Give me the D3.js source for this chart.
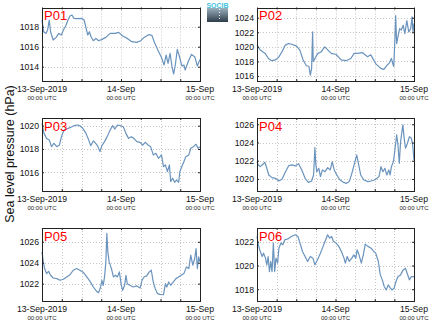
<!DOCTYPE html>
<html><head><meta charset="utf-8">
<script src="https://cdn.jsdelivr.net/npm/d3@7"></script>
<style>html,body{margin:0;padding:0;background:#fff;}svg{display:block;}</style>
</head><body>
<script>
const panelNames = ["P01","P02","P03","P04","P05","P06"];
const startDate = Date.UTC(2019, 8, 13);
const xTickLabels = ["13-Sep-2019", "14-Sep", "15-Sep"];
const xTickSub = "00:00 UTC";
const yLabel = "Sea level pressure (hPa)";

const p01Hours = [0,0.5,1.2,1.7,2.2,2.6,3.4,4.3,5.1,5.9,6.5,7.2,7.8,8.5,9.1,9.7,10.7,12.1,12.8,13.4,13.9,14.4,14.9,15.6,16.4,17.2,18.2,19.4,20.7,22.2,23.3,24.5,25.9,27.3,28.8,30,31,32.4,33.4,34.2,35.2,36.3,37.1,37.7,38.3,38.9,39.5,40,40.5,41.1,41.7,42.5,43.1,43.5,44.4,45.4,46.4,47.2,48];
const p01Values = [1018.67,1017.5,1017.33,1017.67,1018.67,1017.5,1016.67,1016.93,1017.33,1017.17,1017.67,1018.07,1018.6,1019.07,1019.17,1018.83,1018.8,1018.83,1018.67,1017.83,1017.17,1017.5,1017,1016.6,1016.83,1016.6,1016.73,1016.93,1017.33,1017.33,1017.43,1017.07,1016.83,1016.5,1016.43,1016.6,1016.93,1017.2,1017.13,1016.4,1015.67,1014.93,1014.17,1015.17,1014.33,1015.33,1014,1013.27,1014.17,1015.73,1015.07,1014.07,1014.17,1013.67,1014.5,1015.23,1015,1014.07,1014.73];

const p02Hours = [0,1,2.5,3.5,4.5,5.6,6.6,7.6,8.6,9.6,10.6,12.1,13.1,14.1,15.1,15.9,16.3,16.7,17,17.2,17.7,18.6,19.6,20.7,21.7,22.7,24.2,25.7,27.2,28.7,29.7,30.7,32.3,33.8,34.8,36.3,37.8,38.8,39.8,40.5,41.1,41.5,41.8,42.2,42.4,42.7,43.1,43.6,44.1,44.7,45.2,45.8,46.4,47,47.4,47.7,48];
const p02Values = [1020.23,1019.55,1019.1,1018.4,1018.1,1018.2,1018.55,1019.3,1020.2,1020.45,1020.36,1020.1,1019.55,1018.2,1017.4,1017.3,1016.1,1017.05,1022.05,1018,1018.4,1019.1,1019.3,1020,1019.55,1019.1,1018.95,1018.2,1018.1,1018.4,1019.1,1019.1,1019.2,1018.65,1018.9,1017.7,1017.05,1016.9,1017.5,1017.8,1018.4,1017.7,1017.3,1021.4,1024.3,1020.45,1021.4,1022.5,1022.3,1022.95,1021.8,1023.6,1022.05,1022.5,1024.1,1022.05,1023.2];

const p03Hours = [0,0.6,1.4,2.2,2.9,3.6,4.5,5.3,5.9,6.7,7.5,8.5,9.7,10.7,11.5,12.4,13.2,14,14.8,15.6,16.3,17,17.6,18.2,19,19.8,20.7,21.5,22.1,22.9,23.9,24.7,25.5,26.3,27.1,27.9,28.8,29.8,30.6,31.4,32.2,33,33.8,34.6,35.4,36.3,36.9,37.5,38.1,38.7,39.1,39.7,40.3,40.9,41.5,41.9,42.5,43.1,43.7,44.6,45.2,46,46.8,47.4,48];
const p03Values = [1020.2,1019.34,1018.9,1018.77,1018.2,1018.49,1018.2,1018.34,1019.06,1019.63,1019.71,1019.83,1020,1020.06,1020,1019.77,1019.43,1018.91,1018.29,1018.69,1018.49,1018.2,1017.77,1018.29,1018.63,1019.06,1019.63,1020,1019.71,1020.06,1020,1019.91,1019.34,1018.91,1019.06,1018.91,1018.63,1018.57,1018.34,1018.57,1018.34,1018.2,1017.49,1017.63,1017.2,1017.49,1016.49,1016.63,1016.06,1016.63,1015.2,1015.49,1015.14,1015.34,1015.14,1016.06,1016.49,1016.91,1017.34,1017.49,1018.06,1018.2,1018.4,1018.06,1018.2];

const p04Hours = [0,0.4,1,1.8,2.4,3,3.6,4.6,5.6,6.7,7.7,8.7,9.7,10.7,11.7,12.7,13.7,14.7,15.7,16.7,17.3,17.7,18,18.3,18.9,19.4,20,20.8,21.6,22.4,23,23.6,24.4,25.4,26.4,27.4,28.2,29,29.8,30.5,31,31.7,32.7,33.9,34.9,35.9,36.7,37.3,37.9,38.5,39.1,39.7,40.3,40.7,41.1,41.7,42.1,42.7,43.1,43.5,43.9,44.6,45,45.4,46,46.6,47.2,47.6,48];
const p04Values = [1021.9,1021.54,1021.35,1021.61,1021.83,1021.17,1020.44,1020.15,1020.07,1019.78,1020,1020.8,1021.46,1021.54,1021.43,1021.68,1020.99,1020.07,1019.63,1019.78,1020.44,1023.44,1021.54,1020.8,1021.17,1020.26,1020.99,1020.8,1021.24,1020.99,1021.9,1020.99,1020.44,1019.89,1019.63,1019.52,1019.71,1020.62,1021.72,1022.63,1021.72,1020.44,1019.89,1019.71,1019.78,1019.89,1020.07,1020.26,1021.35,1020.8,1021.17,1020.44,1020.99,1020.44,1021.35,1021.9,1023,1024.83,1023.73,1021.72,1024.1,1025.93,1024.46,1023.37,1023.92,1024.65,1024.46,1023.73,1022.09];

const p05Hours = [0,0.4,0.8,1.4,2,2.6,3.4,4.5,5.5,6.5,7.5,8.5,9.5,10.5,11.5,12.6,13.6,14.6,15.6,16.6,17.2,17.8,18.2,18.6,19,19.4,19.7,20,20.4,21.1,21.7,22.3,22.9,23.5,24.1,24.5,25.1,25.5,25.9,26.7,27.7,28.8,29.8,30.4,31,31.8,32.6,33.2,33.8,34.4,35.1,35.8,36.9,37.5,37.9,38.5,39.1,39.9,40.7,41.5,42.3,43.1,43.9,44.6,45.2,45.8,46.4,46.8,47.2,47.6,48];
const p05Values = [1025.04,1024.08,1023.44,1022.96,1023.18,1022.8,1022.54,1022.48,1022.32,1022.42,1022.64,1022.86,1023.28,1023.44,1023.28,1023.06,1022.64,1022.22,1021.68,1021.26,1021.14,1021.68,1022.32,1021.84,1022.64,1024.08,1026.8,1025.04,1024.08,1023.44,1022.64,1022.8,1022.64,1023.12,1021.84,1021.36,1021.84,1022.8,1022,1021.84,1021.68,1021.78,1021.58,1022.32,1022.64,1022.74,1023.12,1023.28,1022.16,1021.52,1021.04,1020.98,1020.94,1022,1021.68,1022.16,1021.84,1022.16,1022.48,1022.64,1022.8,1022.96,1023.6,1023.44,1024.72,1023.76,1024.4,1025.36,1023.44,1024.56,1024.08];

const p06Hours = [0,0.4,1,1.6,2,2.6,3,3.4,3.8,4.2,4.6,5,5.4,5.8,6.3,6.7,7.3,7.9,8.5,9.5,10.5,11.7,12.5,13.3,13.9,14.7,15.5,16.3,17.1,17.7,18.5,19.4,20.2,21,21.6,22.2,22.8,23.4,24.2,25,25.8,26.6,27,27.6,28.2,29,29.6,30.2,30.6,31.2,31.9,32.5,33.1,33.9,34.9,35.7,36.3,37.1,37.7,38.3,38.9,39.5,40.1,40.7,41.3,41.9,42.5,43.1,43.9,44.7,45.4,45.9,46.6,47.2,48];
const p06Values = [1022.45,1021.75,1021.18,1020.76,1021.04,1020.62,1020.06,1020.76,1019.49,1020.34,1019.49,1021.89,1019.49,1020.62,1020.2,1021.46,1021.89,1021.75,1022.17,1022.25,1022.45,1022.59,1022.45,1021.75,1021.18,1020.76,1020.34,1020.76,1020.62,1020.06,1020.48,1021.04,1021.61,1022.17,1022.59,1022.31,1022.45,1022.03,1021.89,1021.61,1021.18,1020.62,1020.2,1020.76,1020.34,1020.62,1020.9,1020.62,1021.32,1020.9,1020.2,1020.9,1021.8,1021.61,1021.46,1021.18,1021.04,1020.34,1019.21,1018.79,1018.23,1017.94,1018.37,1018.14,1017.94,1018.08,1018.65,1019.07,1019.21,1019.63,1019.77,1019.35,1018.79,1019.07,1019.07];

const yDomains = [[1012.57,1019.92],[1015.31,1025.40],[1014.39,1020.66],[1018.68,1026.69],[1020.34,1027.32],[1017.01,1023.16]];
const yTicks = [[1014,1016,1018],[1016,1018,1020,1022,1024],[1016,1018,1020],[1020,1022,1024,1026],[1022,1024,1026],[1018,1020,1022]];

const allHours = [p01Hours,p02Hours,p03Hours,p04Hours,p05Hours,p06Hours];
const allValues = [p01Values,p02Values,p03Values,p04Values,p05Values,p06Values];

const W = 434, H = 327;
const colX = [[42,200],[257,414]];
const rowY = [[7.5,81],[118,191],[228,301]];
const lineColor = "#6a93bd";
const font = "Liberation Sans, Arial, sans-serif";

const svg = d3.select("body").append("svg").attr("width", W).attr("height", H);

const toDate = h => new Date(startDate + h * 3600000);
const xDomain = [toDate(0), toDate(48)];
const sixHourly = d3.range(0, 49, 6).map(toDate);
const dayTicks = [0, 24, 48].map(toDate);

panelNames.forEach((name, i) => {
  const c = i % 2, r = Math.floor(i / 2);
  const [x0, x1] = colX[c], [y0, y1] = rowY[r];
  const x = d3.scaleUtc().domain(xDomain).range([x0, x1]);
  const y = d3.scaleLinear().domain(yDomains[i]).range([y1, y0]);
  const g = svg.append("g");

  // grid
  g.append("g").selectAll("line").data(sixHourly.slice(1, -1)).join("line")
    .attr("x1", d => Math.round(x(d)) + 0.5).attr("x2", d => Math.round(x(d)) + 0.5)
    .attr("y1", y0).attr("y2", y1)
    .attr("stroke", "#c4c4c4").attr("stroke-width", 1).attr("stroke-dasharray", "1,2");
  g.append("g").selectAll("line").data(yTicks[i]).join("line")
    .attr("x1", x0).attr("x2", x1)
    .attr("y1", d => Math.round(y(d)) + 0.5).attr("y2", d => Math.round(y(d)) + 0.5)
    .attr("stroke", "#c4c4c4").attr("stroke-width", 1).attr("stroke-dasharray", "1,2");

  // data line
  const pts = allHours[i].map((h, k) => [toDate(h), allValues[i][k]]);
  g.append("path").datum(pts)
    .attr("fill", "none").attr("stroke", lineColor).attr("stroke-width", 1.2)
    .attr("stroke-linejoin", "round")
    .attr("d", d3.line().x(d => x(d[0])).y(d => y(d[1])));

  // axes
  const xb = g.append("g").attr("transform", `translate(0,${y1})`)
    .call(d3.axisBottom(x).tickValues(sixHourly).tickSizeInner(-2).tickSizeOuter(0).tickFormat(""));
  const xt = g.append("g").attr("transform", `translate(0,${y0})`)
    .call(d3.axisTop(x).tickValues(sixHourly).tickSizeInner(-2).tickSizeOuter(0).tickFormat(""));
  const yl = g.append("g").attr("transform", `translate(${x0},0)`)
    .call(d3.axisLeft(y).tickValues(yTicks[i]).tickSizeInner(-2).tickSizeOuter(0).tickPadding(3).tickFormat(d3.format("d")));
  const yr = g.append("g").attr("transform", `translate(${x1},0)`)
    .call(d3.axisRight(y).tickValues(yTicks[i]).tickSizeInner(-2).tickSizeOuter(0).tickFormat(""));
  [xb, xt, yl, yr].forEach(a => {
    a.select(".domain").remove();
    a.selectAll(".tick line").attr("stroke", "#222");
  });
  yl.selectAll("text").attr("font-family", font).attr("font-size", 8.7).attr("fill", "#111");

  // frame
  g.append("rect").attr("x", x0 + 0.5).attr("y", Math.round(y0) + 0.5)
    .attr("width", x1 - x0).attr("height", Math.round(y1) - Math.round(y0))
    .attr("fill", "none").attr("stroke", "#222").attr("stroke-width", 1);

  // x tick labels
  dayTicks.forEach((d, k) => {
    g.append("text").attr("x", x(d)).attr("y", y1 + 10.5)
      .attr("text-anchor", "middle").attr("font-family", font).attr("font-size", 8.7).attr("fill", "#111")
      .text(xTickLabels[k]);
    g.append("text").attr("x", x(d)).attr("y", y1 + 18.5)
      .attr("text-anchor", "middle").attr("font-family", font).attr("font-size", 6).attr("fill", "#222")
      .text(xTickSub);
  });

  // panel name
  g.append("text").attr("x", x0 + 2).attr("y", y0 + 12.5)
    .attr("font-family", font).attr("font-size", 13).attr("fill", "#f00").text(name);
});

// y label
svg.append("text").attr("transform", "translate(14,154) rotate(-90)")
  .attr("text-anchor", "middle").attr("font-family", font).attr("font-size", 12.5).attr("fill", "#111")
  .text(yLabel);

// logo
const defs = svg.append("defs");
const grad = defs.append("linearGradient").attr("id", "lg").attr("x1", 0).attr("y1", 0).attr("x2", 0).attr("y2", 1);
grad.append("stop").attr("offset", "0%").attr("stop-color", "#9ab0bc");
grad.append("stop").attr("offset", "100%").attr("stop-color", "#2e3d4a");
svg.append("rect").attr("x", 207).attr("y", 8).attr("width", 21).attr("height", 14).attr("fill", "url(#lg)");
svg.append("line").attr("x1", 219.5).attr("x2", 219.5).attr("y1", 9).attr("y2", 21)
  .attr("stroke", "#fff").attr("stroke-dasharray", "1,2").attr("stroke-width", 1);
svg.append("text").attr("x", 217.5).attr("y", 7.5).attr("text-anchor", "middle")
  .attr("font-family", font).attr("font-size", 7).attr("font-weight", "bold").attr("fill", "#3fc3dc").text("SOCIB");
</script>
</body></html>
